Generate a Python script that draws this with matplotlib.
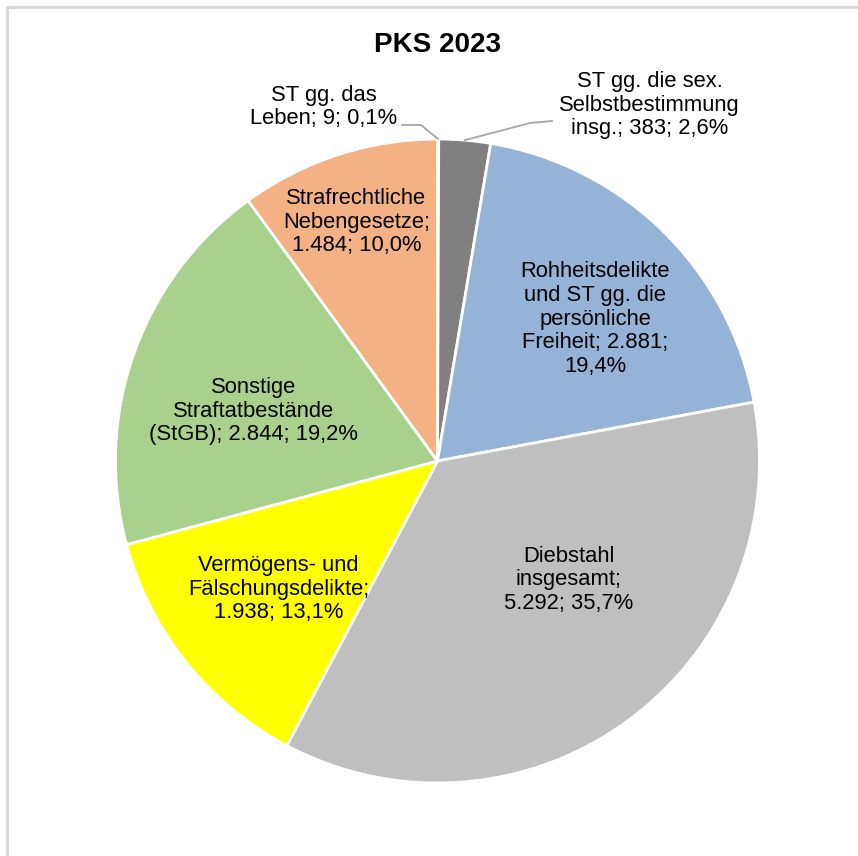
import matplotlib
matplotlib.use("Agg")
import matplotlib.pyplot as plt
import numpy as np

plt.rcParams['font.family'] = ['Liberation Sans', 'DejaVu Sans']

# ---- data ----
title = "PKS 2023"
names = ["ST gg. das\nLeben",
         "ST gg. die sex.\nSelbstbestimmung\ninsg.",
         "Rohheitsdelikte\nund ST gg. die\npersönliche\nFreiheit",
         "Diebstahl\ninsgesamt",
         "Vermögens- und\nFälschungsdelikte",
         "Sonstige\nStraftatbestände\n(StGB)",
         "Strafrechtliche\nNebengesetze"]
values = [9, 383, 2881, 5292, 1938, 2844, 1484]
colors = ["#5b9bd5", "#808080", "#95b3d7", "#bfbfbf", "#ffff00", "#a9d18e", "#f4b183"]
sep1 = ["; ", "; ", "; ", ";\n", ";\n", "; ", ";\n"]
sep2 = ["; ", "; ", ";\n", "; ", "; ", "; ", "; "]

# ---- layout (pixels) ----
W, H = 858, 856
cx, cy, R = 437.5, H - 461, 322
# label centre offsets from pie centre (px, y up)
label_off = [(-114, 354), (212, 356), (158, 142), (131, -119),
             (-159, -128), (-184, 50), (-81, 239)]

def fmt_val(v):
    return f"{v:,}".replace(",", ".")

total = sum(values)
labels = []
for n, v, s1, s2 in zip(names, values, sep1, sep2):
    pct = f"{100 * v / total:.1f}".replace(".", ",") + "%"
    labels.append(n + s1 + fmt_val(v) + s2 + pct)

fig = plt.figure(figsize=(W / 100, H / 100), dpi=100)
ax = fig.add_axes([0, 0, 1, 1])

wedges, _ = ax.pie(values, colors=colors, startangle=90, counterclock=False,
                   center=(cx, cy), radius=R, frame=True,
                   wedgeprops=dict(edgecolor='white', linewidth=2))
ax.set_xlim(0, W)
ax.set_ylim(0, H)
ax.set_aspect('auto')
ax.axis('off')

for lab, (dx, dy) in zip(labels, label_off):
    ax.text(cx + dx, cy + dy, lab, ha='center', va='center', fontsize=15.8,
            linespacing=1.17, color='black')

# leader lines for outer labels
def edge_point(i):
    w = wedges[i]
    ang = np.deg2rad((w.theta1 + w.theta2) / 2)
    return cx + R * np.cos(ang), cy + R * np.sin(ang)

ex, ey = edge_point(0)
ax.plot([402, 421, ex], [H - 125, H - 125, ey], color='#a6a6a6', lw=1.3)
ex, ey = edge_point(1)
ax.plot([552, 530, ex], [H - 121, H - 123, ey], color='#a6a6a6', lw=1.3)

ax.text(437, H - 45, title, ha='center', va='center', fontsize=20,
        fontweight='bold')

# chart frame (left and top visible)
ax.plot([7, 7], [H - 7, 0], color='#d9d9d9', lw=2.2, solid_capstyle='butt')
ax.plot([6, W], [H - 7, H - 7], color='#d9d9d9', lw=2.2, solid_capstyle='butt')

fig.savefig("out.png", dpi=100)
